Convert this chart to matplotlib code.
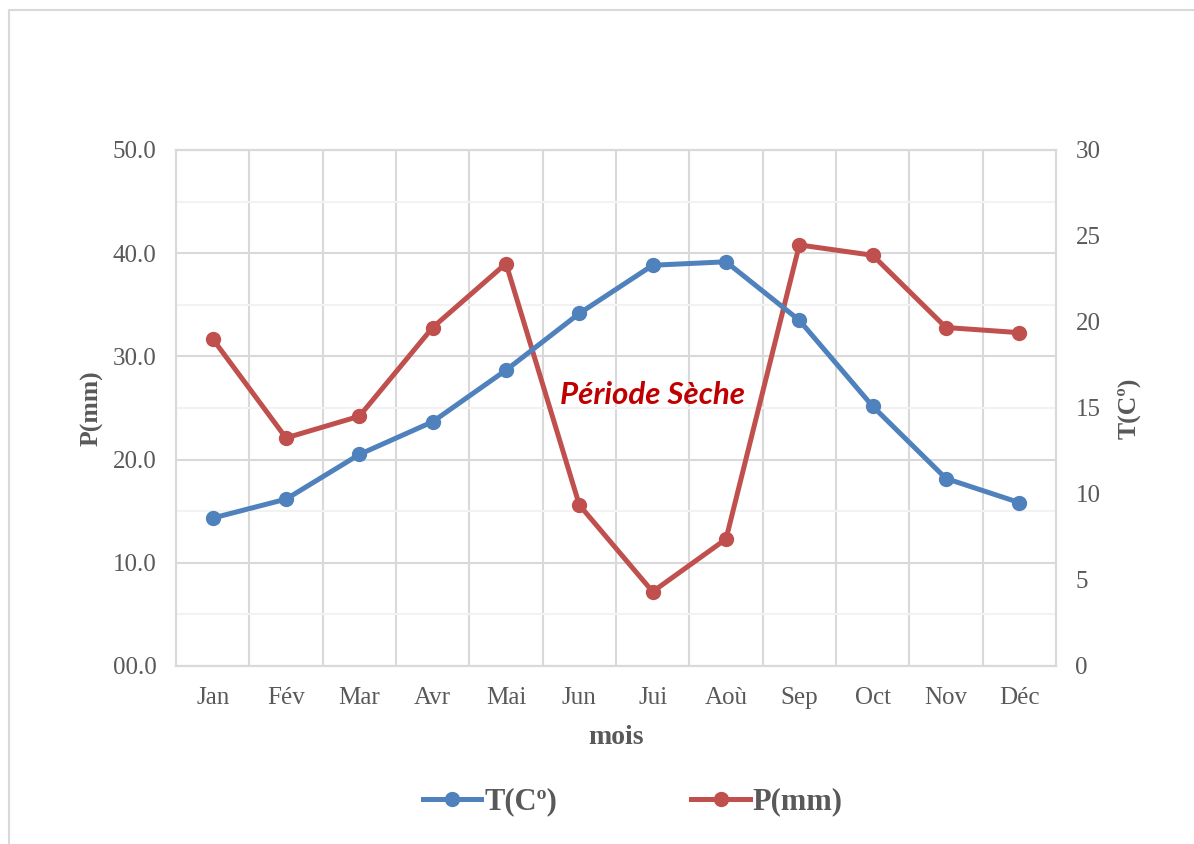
import matplotlib.pyplot as plt
from matplotlib.lines import Line2D
from matplotlib.ticker import FuncFormatter, MultipleLocator

# Monthly data
months = ['Jan', 'Fév', 'Mar', 'Avr', 'Mai', 'Jun', 'Jui', 'Aoù', 'Sep', 'Oct', 'Nov', 'Déc']
precip = [31.7, 22.1, 24.2, 32.8, 39.0, 15.6, 7.2, 12.3, 40.8, 39.8, 32.8, 32.3]
temp = [8.6, 9.7, 12.3, 14.2, 17.2, 20.5, 23.3, 23.5, 20.1, 15.1, 10.9, 9.5]

blue = '#4F81BD'
red = '#C0504D'
grid_major = '#D9D9D9'
grid_minor = '#F2F2F2'
txt = '#595959'
serif = 'Liberation Serif'

fig = plt.figure(figsize=(11.94, 8.44), dpi=100)
ax = fig.add_axes([176 / 1194, 1 - 666 / 844, 880 / 1194, 516 / 844])
ax2 = ax.twinx()

x = list(range(len(months)))

# precipitation on left axis
ax.set_xlim(-0.5, len(months) - 0.5)
ax.set_ylim(0, 50)
ax.yaxis.set_major_locator(MultipleLocator(10))
ax.yaxis.set_minor_locator(MultipleLocator(5))
ax.yaxis.set_major_formatter(FuncFormatter(lambda v, p: '%04.1f' % v))
ax.set_xticks(x)
ax.set_xticklabels(months)
ax.set_xticks([i + 0.5 for i in x[:-1]], minor=True)
ax.grid(which='major', axis='y', color=grid_major, lw=1.5)
ax.grid(which='minor', axis='y', color=grid_minor, lw=1.5)
ax.grid(which='minor', axis='x', color=grid_major, lw=1.5)
ax.set_axisbelow(True)
ax.tick_params(which='both', length=0, labelsize=18, labelcolor=txt)
ax.tick_params(axis='x', pad=15)
ax.tick_params(axis='y', pad=14)
for lab in ax.get_xticklabels() + ax.get_yticklabels():
    lab.set_fontfamily(serif)

ax.plot(x, precip, color=red, lw=3.6, marker='o', ms=10, zorder=3)

# temperature on right axis
ax2.set_ylim(0, 30)
ax2.yaxis.set_major_locator(MultipleLocator(5))
ax2.tick_params(length=0, labelsize=18, labelcolor=txt, pad=14)
for lab in ax2.get_yticklabels():
    lab.set_fontfamily(serif)
ax2.plot(x, temp, color=blue, lw=3.6, marker='o', ms=10, zorder=3)

for a in (ax, ax2):
    for s in a.spines.values():
        s.set_color(grid_major)
        s.set_linewidth(1.5)

ax.set_ylabel('P(mm)', fontsize=18.5, fontweight='bold', color=txt, family=serif, labelpad=7)
ax2.set_ylabel('T(Cº)', fontsize=18.5, fontweight='bold', color=txt, family=serif,
               rotation=90, labelpad=12)
ax.set_xlabel('mois', fontsize=20, fontweight='bold', color=txt, family=serif, labelpad=12)

ax.text(6.0, 26.3, 'Période Sèche', fontsize=22.5, fontweight='bold', fontstyle='italic',
        color='#C00000', family='Lato', ha='center', va='center', zorder=5)

handles = [Line2D([], [], color=blue, lw=3.6, marker='o', ms=10),
           Line2D([], [], color=red, lw=3.6, marker='o', ms=10)]
leg = fig.legend(handles, ['T(Cº)', 'P(mm)'], loc='center', bbox_to_anchor=(0.53, 1 - 802 / 844),
                 ncol=2, frameon=False, handlelength=1.9, handletextpad=0.1, columnspacing=4.4,
                 prop={'family': serif, 'weight': 'bold', 'size': 22})
for t in leg.get_texts():
    t.set_color(txt)

# outer chart border (top and left visible)
fig.add_artist(Line2D([8.5 / 1194, 8.5 / 1194, 1], [0, 1 - 9.5 / 844, 1 - 9.5 / 844],
                      color=grid_major, lw=1.5, transform=fig.transFigure))

fig.savefig('out.png', dpi=100, facecolor='white')
